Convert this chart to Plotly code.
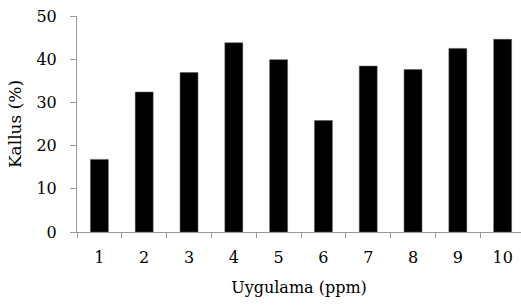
import plotly.graph_objects as go

categories = ["1", "2", "3", "4", "5", "6", "7", "8", "9", "10"]
kallus = [16.8, 32.4, 36.9, 43.8, 39.9, 25.8, 38.4, 37.6, 42.5, 44.6]
y_ticks = [0, 10, 20, 30, 40, 50]

font = dict(family="DejaVu Serif", size=16, color="black")

fig = go.Figure(go.Bar(
    x=categories, y=kallus,
    marker=dict(color="black", line=dict(color="#555555", width=0.5)),
    width=0.4,
    cliponaxis=False,
))

fig.update_layout(
    width=521, height=308,
    margin=dict(l=77, r=0, t=16, b=76, autoexpand=False),
    plot_bgcolor="white", paper_bgcolor="white",
    font=font,
    showlegend=False,
    bargap=0.6,
)
fig.update_xaxes(
    type="category", range=[-0.5, 9.41],
    showline=True, linecolor="#999999", linewidth=1,
    ticks="outside", tickson="boundaries", ticklen=5, tickcolor="#999999",
    showgrid=False, zeroline=False, automargin=False,
    title=dict(text="Uygulama (ppm)", standoff=15, font=font),
    tickfont=font,
    ticklabelstandoff=11,
)
fig.update_yaxes(
    range=[0, 50], tickvals=y_ticks,
    showline=True, linecolor="#999999", linewidth=1,
    ticks="outside", ticklen=6, tickcolor="#999999",
    showgrid=False, zeroline=False, automargin=False,
    title=dict(text="Kallus (%)", standoff=10, font=dict(family="DejaVu Serif", size=17, color="black")),
    tickfont=font,
    ticklabelstandoff=10,
)

fig.write_html(
    "out.html",
    config={"displayModeBar": False},
    post_script="document.body.style.margin='0';document.body.style.padding='0';",
)
